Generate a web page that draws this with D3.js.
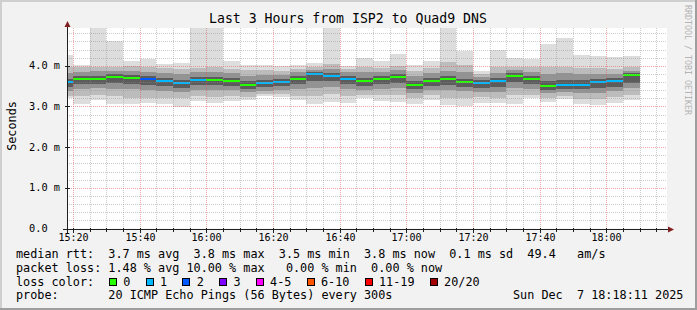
<!DOCTYPE html>
<html>
<head>
<meta charset="utf-8">
<script src="https://cdn.jsdelivr.net/npm/d3@7"></script>
<style>
  body { margin: 0; background: #f2f2f2; }
  svg { display: block; }
  text { font-family: "DejaVu Sans Mono", monospace; white-space: pre; }
</style>
</head>
<body>
<div id="chart"></div>
<script>
// ---- data (ms) ----
const title = 'Last 3 Hours from ISP2 to Quad9 DNS';
const startTime = '2025-12-07T15:18:11';
const endTime = '2025-12-07T18:18:11';
const firstStep = '2025-12-07T15:15:00';
const stepMinutes = 5;

const rttMax   = [4.27, 4.03, 5.20, 4.61, 4.13, 4.18, 4.05, 4.06, 5.20, 5.20, 4.12, 4.03, 4.03, 3.99, 4.03, 4.08, 5.20, 3.99, 4.19, 4.13, 4.30, 4.03, 4.11, 5.20, 4.37, 3.87, 4.39, 4.19, 4.17, 4.53, 4.68, 4.27, 4.25, 4.21, 4.24];
const band2Hi  = [3.97, 3.96, 3.97, 3.97, 3.99, 3.98, 3.95, 3.92, 3.95, 3.98, 3.93, 3.90, 3.90, 3.88, 3.93, 3.98, 4.05, 3.93, 3.98, 3.95, 4.00, 3.88, 3.95, 4.10, 4.02, 3.80, 3.98, 3.98, 3.96, 3.96, 3.98, 3.95, 3.94, 3.92, 3.96];
const band3Hi  = [3.82, 3.86, 3.87, 3.88, 3.88, 3.86, 3.83, 3.80, 3.84, 3.86, 3.82, 3.76, 3.78, 3.78, 3.84, 3.90, 3.92, 3.84, 3.86, 3.85, 3.90, 3.75, 3.82, 3.88, 3.85, 3.72, 3.82, 3.90, 3.85, 3.80, 3.82, 3.80, 3.80, 3.80, 3.88];
const band4Hi  = [3.68, 3.74, 3.75, 3.79, 3.77, 3.74, 3.70, 3.66, 3.72, 3.73, 3.70, 3.62, 3.65, 3.67, 3.74, 3.86, 3.82, 3.74, 3.70, 3.74, 3.80, 3.62, 3.70, 3.75, 3.68, 3.64, 3.70, 3.82, 3.75, 3.62, 3.65, 3.64, 3.68, 3.70, 3.83];
const medianRtt = [3.60, 3.68, 3.68, 3.73, 3.70, 3.67, 3.62, 3.58, 3.65, 3.65, 3.62, 3.52, 3.57, 3.60, 3.67, 3.80, 3.75, 3.67, 3.62, 3.67, 3.72, 3.53, 3.62, 3.67, 3.60, 3.57, 3.62, 3.76, 3.68, 3.50, 3.54, 3.53, 3.60, 3.62, 3.78];
const band4Lo  = [3.48, 3.55, 3.56, 3.58, 3.55, 3.52, 3.50, 3.46, 3.52, 3.52, 3.50, 3.44, 3.47, 3.50, 3.55, 3.62, 3.62, 3.55, 3.50, 3.55, 3.58, 3.42, 3.50, 3.52, 3.48, 3.46, 3.48, 3.60, 3.55, 3.40, 3.44, 3.42, 3.46, 3.48, 3.58];
const band3Lo  = [3.38, 3.44, 3.45, 3.44, 3.42, 3.40, 3.38, 3.35, 3.40, 3.40, 3.40, 3.35, 3.38, 3.40, 3.42, 3.45, 3.48, 3.43, 3.40, 3.42, 3.45, 3.32, 3.40, 3.40, 3.38, 3.36, 3.36, 3.46, 3.44, 3.32, 3.36, 3.32, 3.34, 3.38, 3.45];
const band2Lo  = [3.27, 3.26, 3.28, 3.25, 3.22, 3.22, 3.22, 3.20, 3.25, 3.24, 3.27, 3.24, 3.30, 3.30, 3.27, 3.25, 3.30, 3.26, 3.28, 3.28, 3.28, 3.20, 3.28, 3.22, 3.20, 3.24, 3.22, 3.28, 3.28, 3.22, 3.26, 3.18, 3.18, 3.24, 3.28];
const rttMin   = [3.20, 3.05, 3.16, 3.05, 3.05, 3.09, 3.07, 2.99, 3.13, 3.09, 3.14, 3.15, 3.26, 3.23, 3.17, 3.07, 3.12, 3.09, 3.20, 3.13, 3.12, 3.07, 3.17, 3.04, 3.01, 3.09, 3.09, 3.07, 3.20, 3.12, 3.18, 3.07, 3.04, 3.09, 3.15];
const lossCount = [1, 0, 0, 0, 0, 2, 1, 1, 1, 0, 0, 0, 1, 1, 0, 1, 1, 1, 0, 0, 0, 0, 0, 0, 0, 1, 1, 0, 0, 0, 1, 1, 1, 1, 0];

const yTickValues = [0, 1, 2, 3, 4];
const yTickLabels = ['0.0', '1.0 m', '2.0 m', '3.0 m', '4.0 m'];
const lossLabels = ['0', '1', '2', '3', '4-5', '6-10', '11-19', '20/20'];
const lossColors = ['#26ff00', '#00b8ff', '#0059ff', '#7e00ff', '#ff00ff', '#ff5500', '#ff0000', '#a10000'];
const lossBucket = [0, 1, 2, 3, 4, 4, 5, 5, 5, 5, 5, 6, 6, 6, 6, 6, 6, 6, 6, 6, 7]; // lost pings -> legend entry

const statLines = [
  'median rtt:  3.7 ms avg  3.8 ms max  3.5 ms min  3.8 ms now  0.1 ms sd  49.4   am/s',
  'packet loss: 1.48 % avg 10.00 % max   0.00 % min  0.00 % now'
];
const probeText = 'probe:       20 ICMP Echo Pings (56 Bytes) every 300s';
const stampText = 'Sun Dec  7 18:18:11 2025';

// ---- layout ----
const W = 697, H = 310;
const plot = {left: 67, right: 667, top: 28, bottom: 228.5};
const smokeColors = ['#dddddd', '#bcbcbc', '#939393', '#5c5c5c'];

const svg = d3.select('#chart').append('svg')
  .attr('width', W)
  .attr('height', H);

// background + 3d frame
svg.append('rect').attr('width', W).attr('height', H).attr('fill', '#f2f2f2');
svg.append('path').attr('d', `M0,0H${W}V2H2V${H}H0Z`).attr('fill', '#cfcfcf');
svg.append('path').attr('d', `M${W},0V${H}H0V${H - 2}H${W - 2}V0Z`).attr('fill', '#9e9e9e');

const x = d3.scaleTime()
  .domain([new Date(startTime), new Date(endTime)])
  .range([plot.left, plot.right]);

const y = d3.scaleLinear()
  .domain([0, 4.93])
  .range([plot.bottom, plot.top]);

svg.append('defs').append('clipPath').attr('id', 'plotclip')
  .append('rect')
  .attr('x', plot.left).attr('y', plot.top)
  .attr('width', plot.right - plot.left).attr('height', plot.bottom - plot.top);

svg.append('rect')
  .attr('x', plot.left).attr('y', plot.top)
  .attr('width', plot.right - plot.left).attr('height', plot.bottom - plot.top)
  .attr('fill', '#ffffff');

// ---- smoke ----
const steps = medianRtt.map((m, i) => {
  const t0 = d3.timeMinute.offset(new Date(firstStep), i * stepMinutes);
  return {
    t0,
    t1: d3.timeMinute.offset(t0, stepMinutes),
    bands: [[rttMax[i], rttMin[i]], [band2Hi[i], band2Lo[i]], [band3Hi[i], band3Lo[i]], [band4Hi[i], band4Lo[i]]],
    median: m,
    loss: lossCount[i]
  };
});

const smoke = svg.append('g')
  .attr('clip-path', 'url(#plotclip)')
  .attr('shape-rendering', 'crispEdges');

steps.forEach((s) => {
  const x0 = Math.round(x(s.t0));
  const x1 = Math.round(x(s.t1));
  s.bands.forEach(([hi, lo], k) => {
    smoke.append('rect')
      .attr('x', x0)
      .attr('width', x1 - x0)
      .attr('y', Math.round(y(hi)))
      .attr('height', Math.round(y(lo)) - Math.round(y(hi)))
      .attr('fill', smokeColors[k]);
  });
  smoke.append('rect')
    .attr('x', x0)
    .attr('width', x1 - x0)
    .attr('y', Math.round(y(s.median)) - 1)
    .attr('height', 2)
    .attr('fill', lossColors[lossBucket[s.loss]]);
});

// ---- grid (drawn on top, like rrdtool, semi transparent) ----
const grid = svg.append('g').attr('shape-rendering', 'crispEdges').attr('stroke-dasharray', '1,1');
const minorCol = 'rgba(143,143,143,0.45)';
const majorCol = 'rgba(222,79,79,0.5)';

const minorTimes = d3.timeMinute.every(5).range(x.domain()[0], x.domain()[1]);
minorTimes.forEach((t) => {
  const major = t.getMinutes() % 20 === 0;
  grid.append('line')
    .attr('x1', Math.round(x(t)) + 0.5).attr('x2', Math.round(x(t)) + 0.5)
    .attr('y1', plot.top).attr('y2', plot.bottom)
    .attr('stroke', major ? majorCol : minorCol);
});

d3.range(1, 25).map((v) => v / 5).filter((v) => v < 4.93).forEach((v) => {
  const major = Math.abs(v - Math.round(v)) < 1e-6;
  grid.append('line')
    .attr('x1', plot.left).attr('x2', plot.right)
    .attr('y1', Math.round(y(v)) + 0.5).attr('y2', Math.round(y(v)) + 0.5)
    .attr('stroke', major ? majorCol : minorCol);
});

// ---- axes ----
const axisY = Math.round(plot.bottom) + 0.5;
const axisX = plot.left + 0.5;
const axes = svg.append('g').attr('shape-rendering', 'crispEdges');

axes.append('line')
  .attr('x1', plot.left - 4).attr('x2', plot.right + 2)
  .attr('y1', axisY).attr('y2', axisY)
  .attr('stroke', '#1f1f1f');
axes.append('line')
  .attr('x1', axisX).attr('x2', axisX)
  .attr('y1', axisY + 3).attr('y2', plot.top - 3)
  .attr('stroke', '#1f1f1f');

minorTimes.forEach((t) => {
  const major = t.getMinutes() % 20 === 0;
  axes.append('line')
    .attr('x1', Math.round(x(t)) + 0.5).attr('x2', Math.round(x(t)) + 0.5)
    .attr('y1', axisY - 2).attr('y2', axisY + (major ? 3 : 2))
    .attr('stroke', '#1f1f1f');
});

yTickValues.forEach((v) => {
  axes.append('line')
    .attr('x1', axisX - 3).attr('x2', axisX + 2)
    .attr('y1', Math.round(y(v)) + 0.5).attr('y2', Math.round(y(v)) + 0.5)
    .attr('stroke', '#1f1f1f');
});

// arrows
svg.append('path')
  .attr('d', `M${plot.right + 1},${axisY - 3}L${plot.right + 7},${axisY}L${plot.right + 1},${axisY + 3}Z`)
  .attr('fill', '#801f1f');
svg.append('path')
  .attr('d', `M${axisX - 3},${plot.top - 1}L${axisX},${plot.top - 7}L${axisX + 3},${plot.top - 1}Z`)
  .attr('fill', '#801f1f');

// tick labels
const fmt = d3.timeFormat('%H:%M');
d3.timeMinute.every(20).range(x.domain()[0], x.domain()[1]).forEach((t) => {
  svg.append('text')
    .attr('x', Math.round(x(t)) + 0.5)
    .attr('y', 241)
    .attr('text-anchor', 'middle')
    .attr('font-size', '10px')
    .attr('fill', '#000')
    .text(fmt(t));
});

yTickValues.forEach((v, i) => {
  svg.append('text')
    .attr('x', 29)
    .attr('y', y(v) + 3.5)
    .attr('font-size', '10.3px')
    .attr('fill', '#000')
    .text(yTickLabels[i]);
});

// title, axis label, watermark
svg.append('text')
  .attr('x', 348).attr('y', 23)
  .attr('text-anchor', 'middle')
  .attr('font-size', '13.2px')
  .text(title);

svg.append('text')
  .attr('transform', 'translate(15.5,126) rotate(-90)')
  .attr('text-anchor', 'middle')
  .attr('font-size', '11.8px')
  .text('Seconds');

svg.append('text')
  .attr('transform', 'translate(685,5) rotate(90)')
  .attr('font-size', '8.3px')
  .attr('fill', '#b4b4b4')
  .text('RRDTOOL / TOBI OETIKER');

// ---- legend ----
const legendX = 16;
const lineBase = [258.3, 272, 285.7, 299.3];
const charW = 7.1;

statLines.forEach((s, i) => {
  svg.append('text')
    .attr('x', legendX).attr('y', lineBase[i])
    .attr('font-size', '11.8px')
    .text(s);
});

svg.append('text')
  .attr('x', legendX).attr('y', lineBase[2])
  .attr('font-size', '11.8px')
  .text('loss color:');

let bx = 109;
lossLabels.forEach((lab, i) => {
  svg.append('rect')
    .attr('x', bx + 0.5).attr('y', lineBase[2] - 7.5)
    .attr('width', 7).attr('height', 7)
    .attr('fill', lossColors[i])
    .attr('stroke', '#000')
    .attr('shape-rendering', 'crispEdges');
  const lx = bx + 14.3;
  svg.append('text')
    .attr('x', lx).attr('y', lineBase[2])
    .attr('font-size', '11.8px')
    .text(lab);
  bx = lx + lab.length * charW + 15.3;
});

svg.append('text')
  .attr('x', legendX).attr('y', lineBase[3])
  .attr('font-size', '11.8px')
  .text(probeText);

svg.append('text')
  .attr('x', 513).attr('y', lineBase[3])
  .attr('font-size', '11.8px')
  .text(stampText);
</script>
</body>
</html>
